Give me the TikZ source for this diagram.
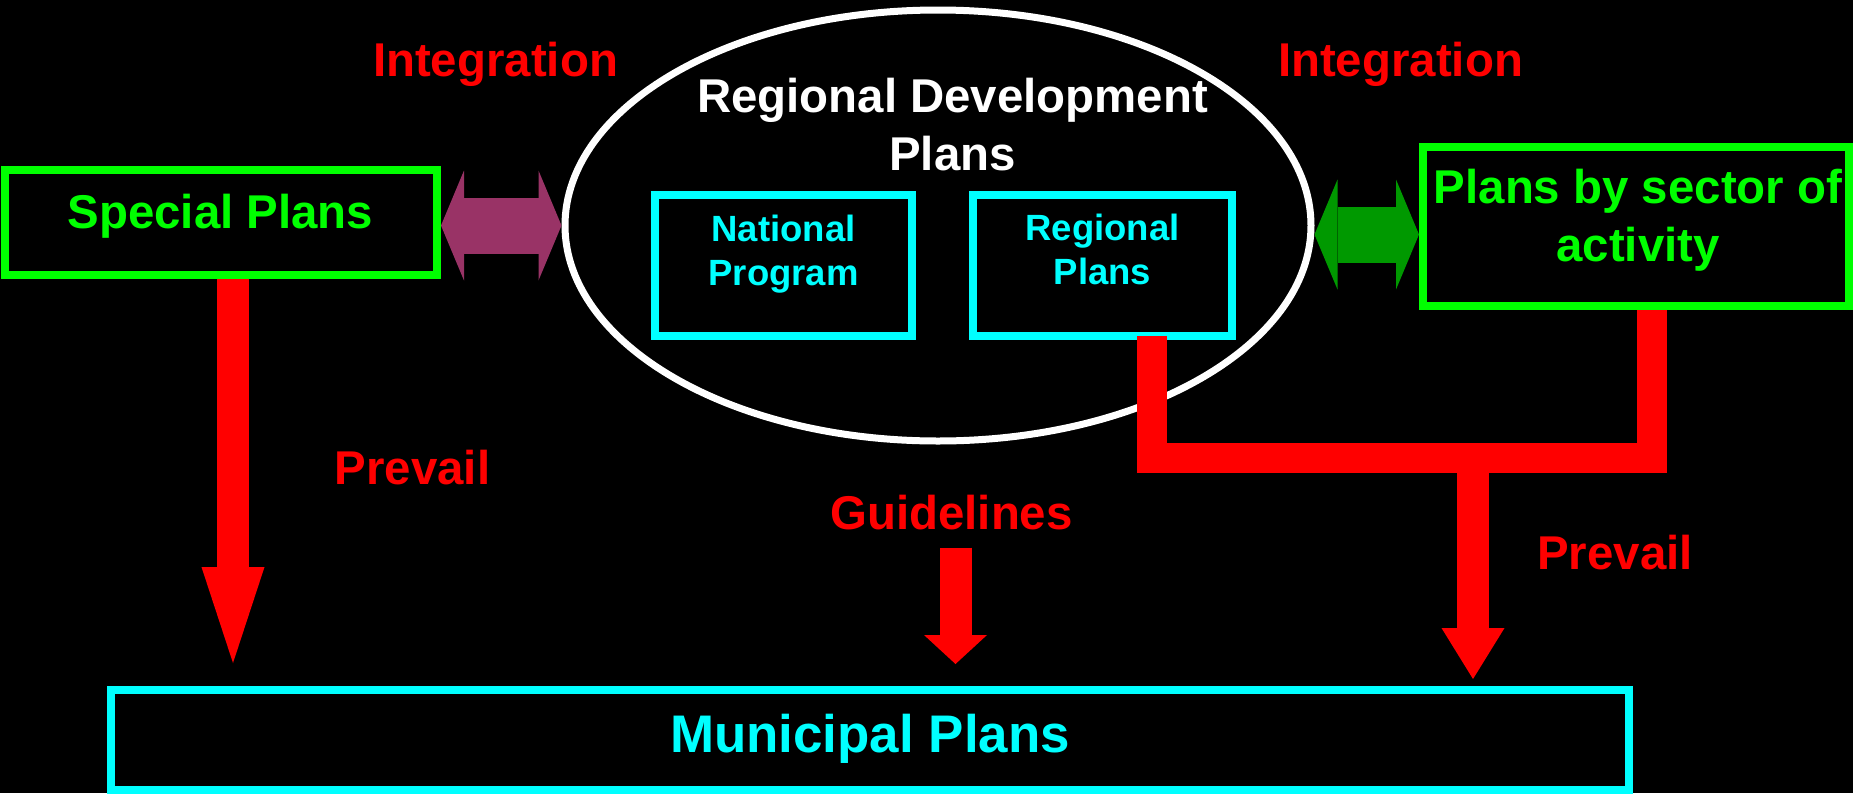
\documentclass[tikz,border=0pt]{standalone}
\usepackage{fontspec}
\setmainfont{Liberation Sans}
\usetikzlibrary{calc,arrows.meta,shapes.geometric}
\definecolor{planlime}{HTML}{00FF00}
\definecolor{aqua}{HTML}{00FFFF}
\definecolor{plum}{HTML}{993366}
\definecolor{leaf}{HTML}{009900}

\begin{document}
\begin{tikzpicture}[x=1pt,y=-1pt,line join=miter,
  txt/.style={anchor=base,inner sep=0pt,align=center},
  headfont/.style={font=\fontsize{47.4}{58}\selectfont\bfseries},
  boxfont/.style={font=\fontsize{36.5}{44}\selectfont\bfseries},
  munifont/.style={font=\fontsize{52.9}{60}\selectfont\bfseries},
  planbox/.style={draw=#1,line width=8pt,rectangle,inner sep=0pt},
  pairarrow/.style={line width=56pt,arrows={Triangle[length=23pt,width=110pt,line width=0pt]-Triangle[length=23pt,width=110pt,line width=0pt]}},
  downarrow/.style={red,line width=32pt,arrows={-Triangle[length=#1,width=63pt,line width=0pt]}}]
\useasboundingbox (0,0) rectangle (1853,793);
\fill[black] (0,0) rectangle (1853,793);

\node [draw=white,line width=7pt,ellipse,inner sep=0pt,minimum width=746pt,minimum height=431pt] (rdp) at (938,225.5) {};
\node [planbox=planlime,minimum width=432pt,minimum height=105pt] (special) at (221,222.5) {};
\node [planbox=planlime,minimum width=426pt,minimum height=159pt] (sector) at (1636,226.5) {};
\node [planbox=aqua,minimum width=257pt,minimum height=141pt] (natl) at (783.5,265.5) {};
\node [planbox=aqua,minimum width=259pt,minimum height=141pt] (rplans) at (1102.5,265.5) {};
\node [planbox=aqua,minimum width=1518pt,minimum height=100pt] (muni) at (870,740) {};

\node [txt,headfont,white] (rdptitle) at (952.5,170) {Regional Development\\Plans};
\node [txt,boxfont,aqua] (natltxt) at (783.5,285) {National\\Program};
\node [txt,boxfont,aqua] (rplanstxt) at (1102.5,284) {Regional\\Plans};
\node [txt,headfont,planlime] (specialtxt) at (220.5,228) {Special Plans};
\node [txt,headfont,planlime] (sectortxt) at (1638,261) {Plans by sector of\\activity};
\node [txt,munifont,aqua] (munitxt) at (870,752) {Municipal Plans};
\node [txt,headfont,red] (intleft) at (495.5,76) {Integration};
\node [txt,headfont,red] (intright) at (1400.5,76) {Integration};
\node [txt,headfont,red] (prevleft) at (412.5,484) {Prevail};
\node [txt,headfont,red] (prevright) at (1615,569) {Prevail};
\node [txt,headfont,red] (guide) at (951.5,529) {Guidelines};

\draw [pairarrow,plum] (special.east |- rdp.west) -- (rdp.west);
\draw [pairarrow,leaf] ([yshift=-9pt]rdp.east) -- ([yshift=-9pt]sector.west |- rdp.east);

\draw [downarrow=96pt] ([xshift=12pt]special.south) -- ([xshift=12pt,yshift=23pt]special.south |- muni.north);
\draw [downarrow=29pt] ([xshift=4pt,yshift=-18pt]guide.south) -- ([xshift=4pt,yshift=22pt]guide.south |- muni.north);
\draw [red,line width=30pt] ([xshift=49.5pt,yshift=4pt]rplans.south) |- ([xshift=16pt,yshift=-147.5pt]sector.south) -- ([xshift=16pt]sector.south);
\coordinate (forkjoin) at (1473,457.5);
\draw [downarrow=51pt] (forkjoin) -- ([yshift=7pt]forkjoin |- muni.north);
\end{tikzpicture}
\end{document}
